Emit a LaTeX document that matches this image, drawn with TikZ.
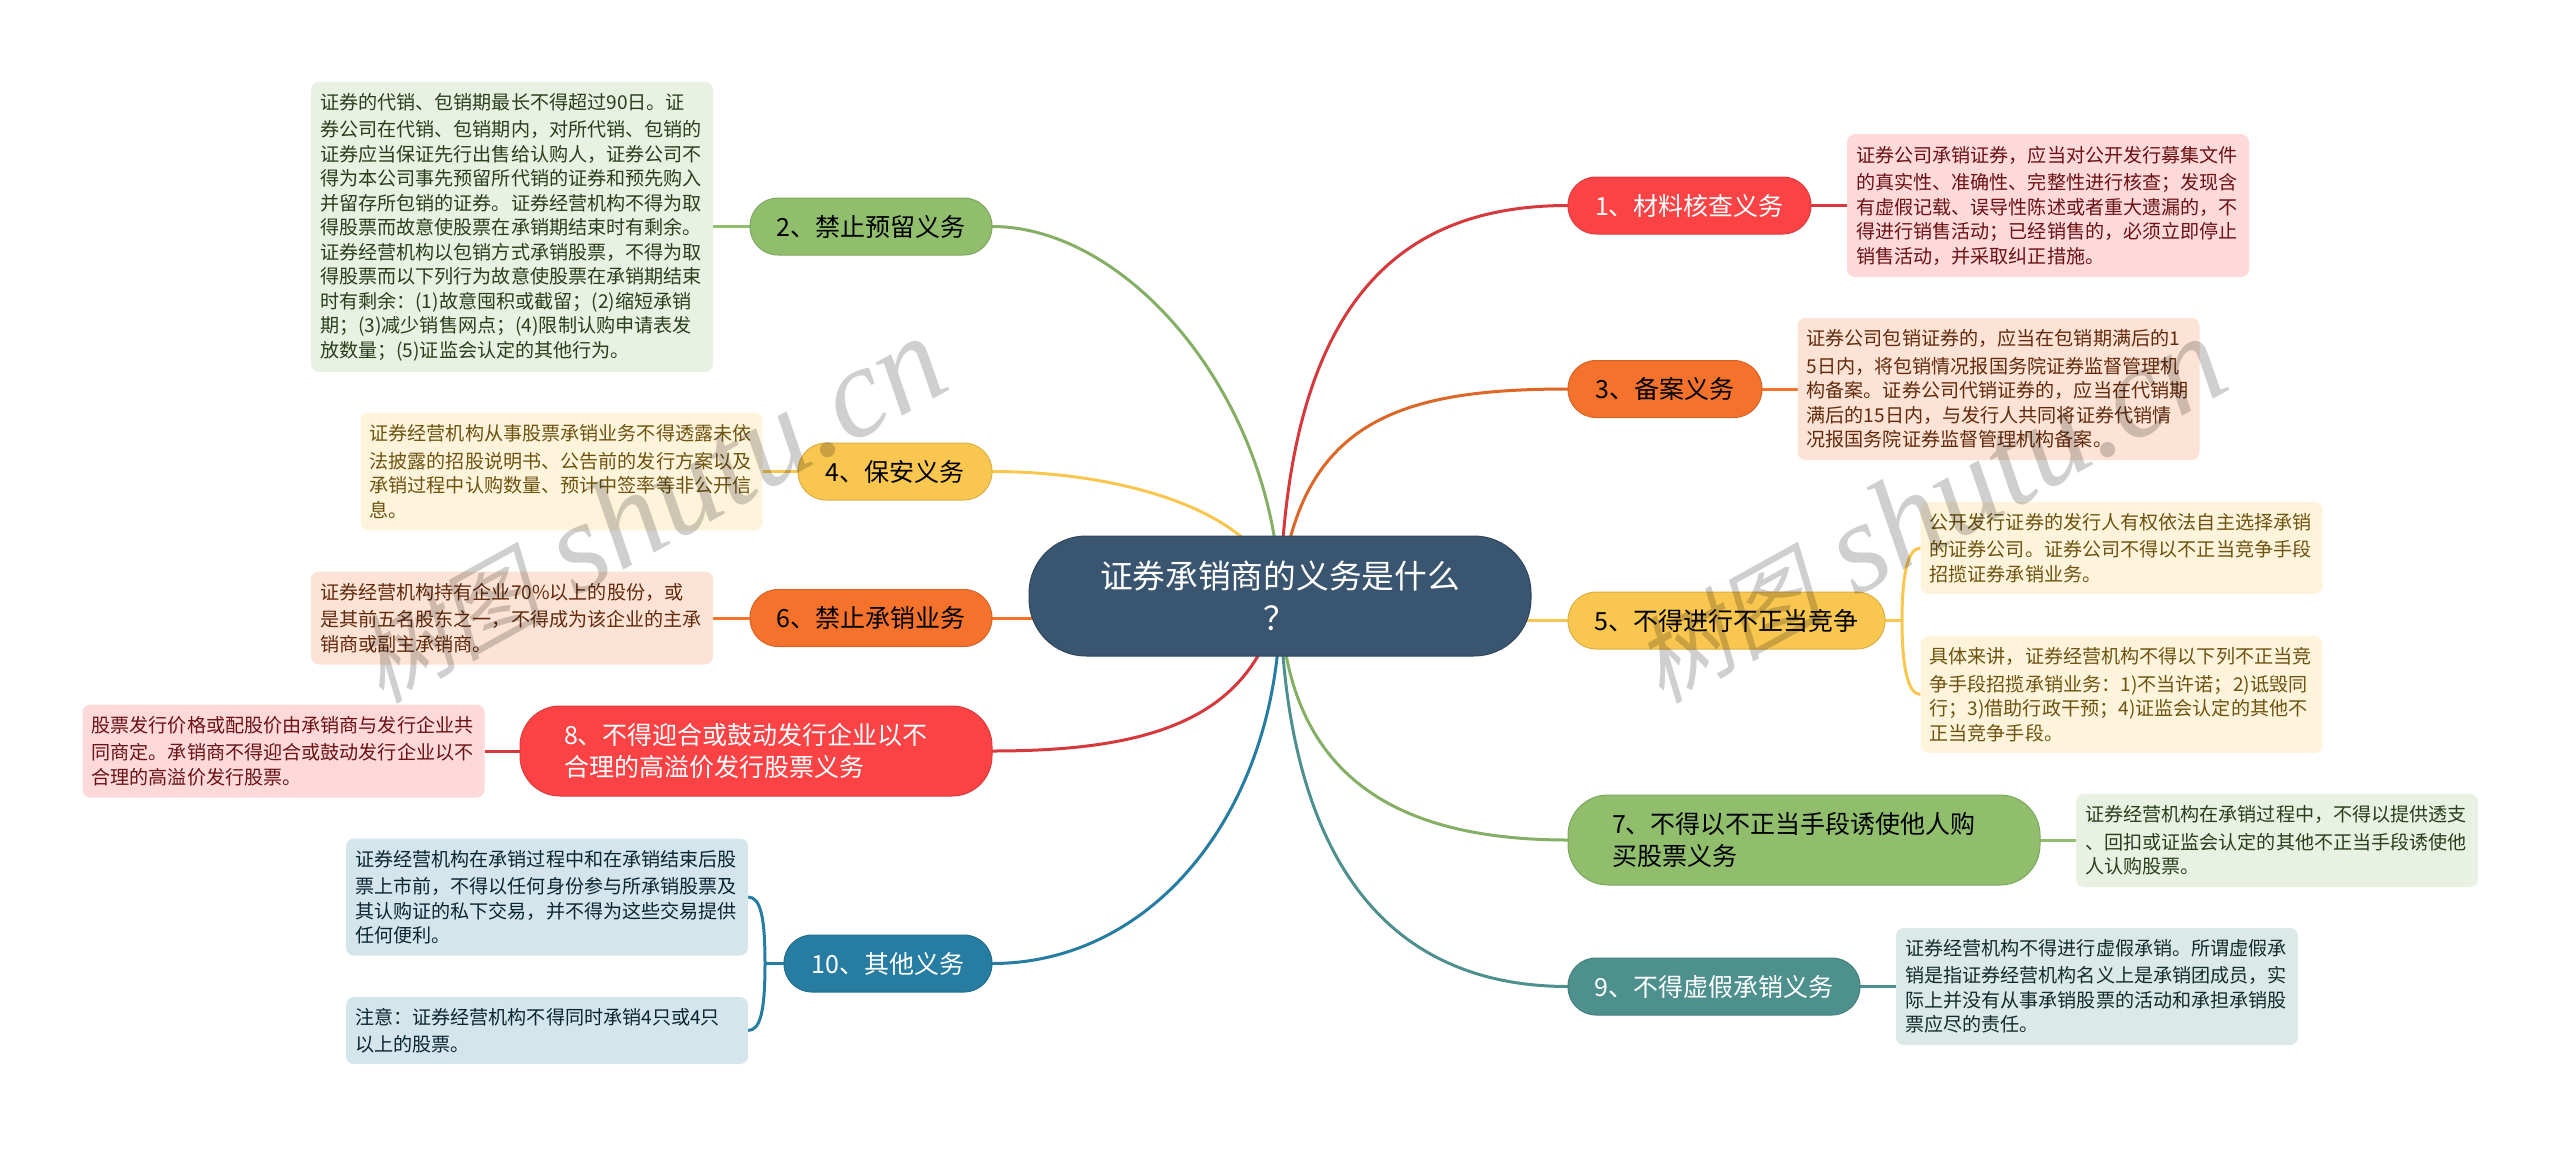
\documentclass[tikz,border=0pt]{standalone}
\usepackage{fontspec}
\setmainfont{Noto Sans CJK SC}
\newfontfamily\wmfont{Liberation Serif}
\newfontfamily\wmcjk[FakeSlant=0.22]{Noto Sans CJK SC}
\usetikzlibrary{backgrounds,calc}
\definecolor{cred}{HTML}{FB4346}
\definecolor{corange}{HTML}{F4722B}
\definecolor{cyellow}{HTML}{F9C74F}
\definecolor{cgreen}{HTML}{90BE6D}
\definecolor{cteal}{HTML}{4D908E}
\definecolor{cblue}{HTML}{277DA1}
\definecolor{cnavy}{HTML}{3A556F}
\definecolor{lred}{HTML}{FED9DA}
\definecolor{lorange}{HTML}{FDE3D5}
\definecolor{lyellow}{HTML}{FEF4DC}
\definecolor{lgreen}{HTML}{E9F2E2}
\definecolor{lteal}{HTML}{DBE9E8}
\definecolor{lblue}{HTML}{D4E5EC}
\definecolor{tred}{HTML}{6A1214}
\definecolor{torange}{HTML}{622A0C}
\definecolor{tyellow}{HTML}{6E5310}
\definecolor{tgreen}{HTML}{2A3E1C}
\definecolor{tteal}{HTML}{122C2B}
\definecolor{tblue}{HTML}{0A2632}
\tikzset{
  x=1pt,y=-1pt,
  base/.style={inner ysep=0pt,outer sep=0pt,align=left},
  topicbox/.style 2 args={base,fill=#1,draw=#1!88!black,line width=1pt,text=#2,
    font=\fontsize{25}{32}\selectfont,inner xsep=0pt,minimum height=57pt,rounded corners=28pt},
  wide/.style={minimum height=90pt,rounded corners=40pt},
  notebox/.style n args={3}{base,fill=#1,text=#2,font=\fontsize{19.1}{24.5}\selectfont,
    inner xsep=9pt,text width=#3-18pt,rounded corners=8pt,execute at begin node={\vspace*{3pt}}},
  branch/.style={line width=3pt,draw=#1},
  watermark/.style={text=black,text opacity=.19,rotate=29,font=\fontsize{129}{129}\wmfont\itshape}
}
\newcommand{\wmcn}{\fontsize{95}{95}\wmcjk}
\begin{document}
\begin{tikzpicture}
\useasboundingbox (0,0) rectangle (2560,1149);
% centre
\node[base,fill=cnavy,draw=cnavy!85!black,line width=1pt,text=white,rounded corners=57pt,
  minimum width=502pt,minimum height=120pt,align=center,font=\fontsize{32.7}{42}\selectfont]
  (c) at (1280,596) {证券承销商的义务是什么\\？};
% topics
\node[topicbox={cred}{white},minimum width=243pt]  (n1) at (1689.5,205.5) {1、材料核查义务};
\node[topicbox={cgreen}{black},minimum width=242pt] (n2) at (871,226.5) {2、禁止预留义务};
\node[topicbox={corange}{black},minimum width=194pt] (n3) at (1665,389) {3、备案义务};
\node[topicbox={cyellow}{black},minimum width=194pt] (n4) at (895,471.5) {4、保安义务};
\node[topicbox={cyellow}{black},minimum width=317pt] (n5) at (1726.5,620.5) {5、不得进行不正当竞争};
\node[topicbox={corange}{black},minimum width=242pt] (n6) at (871,618) {6、禁止承销业务};
\node[topicbox={cgreen}{black},wide,minimum width=472pt,text width=384pt] (n7) at (1804,840) {7、不得以不正当手段诱使他人购\\买股票义务};
\node[topicbox={cred}{white},wide,minimum width=472pt,text width=384pt] (n8) at (756,751) {8、不得迎合或鼓动发行企业以不\\合理的高溢价发行股票义务};
\node[topicbox={cteal}{white},minimum width=292pt] (n9) at (1714,986.5) {9、不得虚假承销义务};
\node[topicbox={cblue}{white},minimum width=208pt] (n10) at (888,963.5) {10、其他义务};
% notes
\node[notebox={lred}{tred}{402pt},minimum height=143pt] (b1) at (2048,205.5) {证券公司承销证券，应当对公开发行募集文件\\的真实性、准确性、完整性进行核查；发现含\\有虚假记载、误导性陈述或者重大遗漏的，不\\得进行销售活动；已经销售的，必须立即停止\\销售活动，并采取纠正措施。};
\node[notebox={lgreen}{tgreen}{402pt},minimum height=290pt] (b2) at (512,227) {证券的代销、包销期最长不得超过90日。证\\券公司在代销、包销期内，对所代销、包销的\\证券应当保证先行出售给认购人，证券公司不\\得为本公司事先预留所代销的证券和预先购入\\并留存所包销的证券。证券经营机构不得为取\\得股票而故意使股票在承销期结束时有剩余。\\证券经营机构以包销方式承销股票，不得为取\\得股票而以下列行为故意使股票在承销期结束\\时有剩余：(1)故意囤积或截留；(2)缩短承销\\期；(3)减少销售网点；(4)限制认购申请表发\\放数量；(5)证监会认定的其他行为。};
\node[notebox={lorange}{torange}{402pt},minimum height=142pt] (b3) at (1998.5,389) {证券公司包销证券的，应当在包销期满后的1\\5日内，将包销情况报国务院证券监督管理机\\构备案。证券公司代销证券的，应当在代销期\\满后的15日内，与发行人共同将证券代销情\\况报国务院证券监督管理机构备案。};
\node[notebox={lyellow}{tyellow}{402pt},minimum height=118pt] (b4) at (561.5,471.5) {证券经营机构从事股票承销业务不得透露未依\\法披露的招股说明书、公告前的发行方案以及\\承销过程中认购数量、预计中签率等非公开信\\息。};
\node[notebox={lyellow}{tyellow}{402pt},minimum height=92pt] (b5a) at (2121.5,548) {公开发行证券的发行人有权依法自主选择承销\\的证券公司。证券公司不得以不正当竞争手段\\招揽证券承销业务。};
\node[notebox={lyellow}{tyellow}{402pt},minimum height=117pt] (b5b) at (2121.5,694.5) {具体来讲，证券经营机构不得以下列不正当竞\\争手段招揽承销业务：1)不当许诺；2)诋毁同\\行；3)借助行政干预；4)证监会认定的其他不\\正当竞争手段。};
\node[notebox={lorange}{torange}{402pt},minimum height=93pt] (b6) at (512,618) {证券经营机构持有企业70\%以上的股份，或\\是其前五名股东之一，不得成为该企业的主承\\销商或副主承销商。};
\node[notebox={lgreen}{tgreen}{402pt},minimum height=93pt] (b7) at (2277,840.5) {证券经营机构在承销过程中，不得以提供透支\\、回扣或证监会认定的其他不正当手段诱使他\\人认购股票。};
\node[notebox={lred}{tred}{402pt},minimum height=93pt] (b8) at (283.5,751) {股票发行价格或配股价由承销商与发行企业共\\同商定。承销商不得迎合或鼓动发行企业以不\\合理的高溢价发行股票。};
\node[notebox={lteal}{tteal}{402pt},minimum height=117pt] (b9) at (2097,986.5) {证券经营机构不得进行虚假承销。所谓虚假承\\销是指证券经营机构名义上是承销团成员，实\\际上并没有从事承销股票的活动和承担承销股\\票应尽的责任。};
\node[notebox={lblue}{tblue}{402pt},minimum height=117pt] (b10a) at (547,897) {证券经营机构在承销过程中和在承销结束后股\\票上市前，不得以任何身份参与所承销股票及\\其认购证的私下交易，并不得为这些交易提供\\任何便利。};
\node[notebox={lblue}{tblue}{402pt},minimum height=67pt] (b10b) at (547,1030.5) {注意：证券经营机构不得同时承销4只或4只\\以上的股票。};
% junctions
\coordinate (j5) at ($(n5.east)+(17,0)$);
\coordinate (j10) at ($(n10.west)+(-19,0)$);
% watermark
\node[watermark] (w1) at (648,510) {{\wmcn 树图} shutu.cn};
\node[watermark] (w2) at (1928,510) {{\wmcn 树图} shutu.cn};
\begin{pgfonlayer}{background}
  \draw[branch=cred!85!black] (c.center) .. controls (1288,300) and (1400,205.5) .. (n1.west);
  \draw[branch=cgreen!92!black] (c.center) .. controls (1275,400) and (1130,226.5) .. (n2.east);
  \draw[branch=corange!90!black] (c.center) .. controls (1298,420) and (1400,389) .. (n3.west);
  \draw[branch=cyellow] (c.center) .. controls (1262,510) and (1120,471.5) .. (n4.east);
  \draw[branch=cyellow] (c.center |- n5.west) -- (n5.west);
  \draw[branch=corange] (c.center |- n6.east) -- (n6.east);
  \draw[branch=cgreen!92!black] (c.center) .. controls (1285,780) and (1400,840) .. (n7.west);
  \draw[branch=cred!85!black] (c.center) .. controls (1255,720) and (1150,751) .. (n8.east);
  \draw[branch=cteal] (c.center) .. controls (1285,850) and (1380,986.5) .. (n9.west);
  \draw[branch=cblue] (c.center) .. controls (1283,800) and (1160,963.5) .. (n10.east);
  \draw[branch=cred!85!black] (n1.east) -- (n1.east -| b1.west);
  \draw[branch=cgreen] (n2.west) -- (n2.west -| b2.east);
  \draw[branch=corange] (n3.east) -- (n3.east -| b3.west);
  \draw[branch=cyellow] (n4.west) -- (n4.west -| b4.east);
  \draw[branch=corange] (n6.west) -- (n6.west -| b6.east);
  \draw[branch=cgreen] (n7.east) -- (n7.east -| b7.west);
  \draw[branch=cred!85!black] (n8.west) -- (n8.west -| b8.east);
  \draw[branch=cteal] (n9.east) -- (n9.east -| b9.west);
  \draw[branch=cyellow] (n5.east) -- (j5);
  \draw[branch=cyellow] (b5a.west) .. controls +(-13,0) and +(0,-45) .. (j5) .. controls +(0,45) and +(-13,0) .. (b5b.west);
  \draw[branch=cblue] (n10.west) -- (j10);
  \draw[branch=cblue] (b10a.east) .. controls +(13,0) and +(0,-45) .. (j10) .. controls +(0,45) and +(13,0) .. (b10b.east);
\end{pgfonlayer}
\end{tikzpicture}
\end{document}
